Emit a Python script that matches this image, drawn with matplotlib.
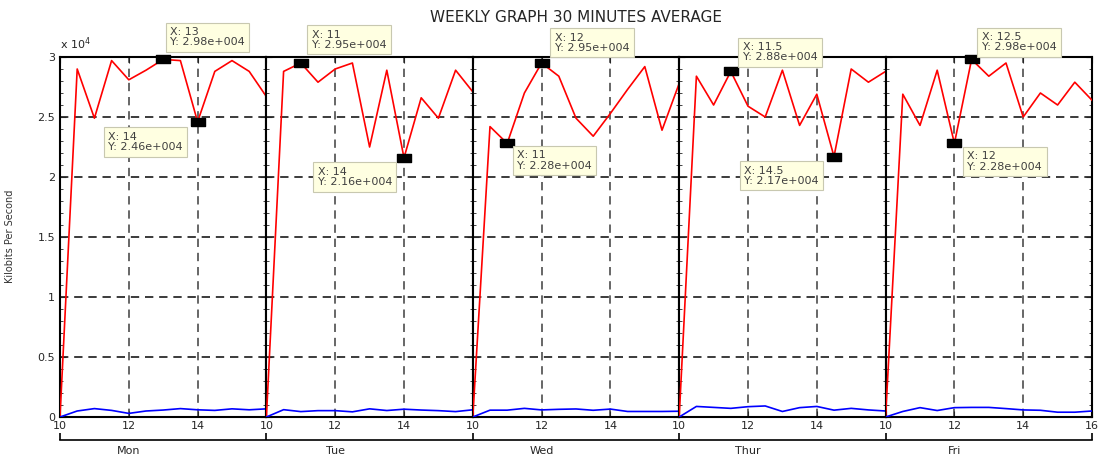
import matplotlib
matplotlib.use("Agg")
import matplotlib.pyplot as plt
from matplotlib.ticker import MultipleLocator

plt.rcParams['font.family'] = ['DejaVu Sans']

# half-hour averages, 10:00 .. 16:00
hours = [10, 10.5, 11, 11.5, 12, 12.5, 13, 13.5, 14, 14.5, 15, 15.5, 16]
days = ['Mon', 'Tue', 'Wed', 'Thur', 'Fri']

red_mon = [0, 29000, 24900, 29700, 28100, 28900, 29800, 29700, 24600, 28800, 29700, 28800, 26700]
red_tue = [0, 28800, 29500, 27900, 29000, 29500, 22500, 28900, 21600, 26600, 24900, 28900, 27100]
red_wed = [0, 24200, 22800, 27000, 29500, 28400, 24900, 23400, 25300, 27300, 29200, 23900, 27800]
red_thu = [0, 28400, 26000, 28800, 25900, 25000, 28900, 24300, 26900, 21700, 29000, 27900, 28800]
red_fri = [0, 26900, 24300, 28900, 22800, 29800, 28400, 29500, 25000, 27000, 26000, 27900, 26400]

blue_mon = [0, 500, 700, 550, 300, 500, 580, 700, 600, 550, 680, 600, 680]
blue_tue = [0, 610, 450, 530, 530, 430, 680, 540, 650, 580, 530, 450, 600]
blue_wed = [0, 570, 570, 720, 590, 640, 670, 560, 660, 460, 460, 460, 480]
blue_thu = [0, 880, 800, 720, 860, 920, 460, 780, 880, 570, 720, 590, 500]
blue_fri = [0, 460, 780, 540, 780, 800, 800, 700, 590, 560, 400, 400, 500]

reds = [red_mon, red_tue, red_wed, red_thu, red_fri]
blues = [blue_mon, blue_tue, blue_wed, blue_thu, blue_fri]

# data tips: (day, hour, dx, dy, ha, va)
tips = [
    (0, 13, 7, 12, 'left', 'bottom'),
    (0, 14, -15, -10, 'right', 'top'),
    (1, 11, 11, 13, 'left', 'bottom'),
    (1, 14, -12, -9, 'right', 'top'),
    (2, 11, 10, -7, 'left', 'top'),
    (2, 12, 13, 10, 'left', 'bottom'),
    (3, 11.5, 12, 9, 'left', 'bottom'),
    (3, 14.5, -15, -9, 'right', 'top'),
    (4, 12.5, 10, 7, 'left', 'bottom'),
    (4, 12, 13, -8, 'left', 'top'),
]


def matlab_fmt(v):
    m, e = f"{v:.2e}".split('e')
    return f"{m}e+{int(e):03d}"


W, H = 1101, 466
fig = plt.figure(figsize=(W / 100, H / 100), dpi=100)
left, right = 60 / W, 1092 / W
fig.subplots_adjust(left=left, right=right, bottom=1 - 417 / H, top=1 - 57 / H, wspace=0)
axes = fig.subplots(1, 5, sharey=True)

rect = [(-1, -0.55), (1, -0.55), (1, 0.55), (-1, 0.55), (-1, -0.55)]

for i, ax in enumerate(axes):
    ax.plot(hours, reds[i], color='#ff0000', lw=1.2, zorder=3)
    ax.plot(hours, blues[i], color='#0000ff', lw=1.2, zorder=3)
    ax.set_xlim(10, 16)
    ax.set_ylim(0, 30000)
    ax.yaxis.set_major_locator(MultipleLocator(5000))
    ax.yaxis.set_minor_locator(MultipleLocator(1000))
    ax.set_xticks([10, 12, 14, 16] if i == 4 else [10, 12, 14])
    ax.grid(True, which='major', axis='y', color='0.1', ls=(0, (5, 3.5)), lw=1.2)
    ax.grid(True, which='major', axis='x', color='0.3', ls=(0, (5, 3.5)), lw=1.2)
    ax.tick_params(which='both', direction='in', left=True, right=True, top=True,
                   labelsize=8, colors='0.15')
    ax.tick_params(which='major', length=4)
    ax.tick_params(which='minor', length=2.5)
    ax.tick_params(axis='x', pad=3)
    for s in ax.spines.values():
        s.set_linewidth(1.5)
        s.set_color('black')

axes[0].set_yticks(range(0, 30001, 5000))
axes[0].set_yticklabels(['0', '0.5', '1', '1.5', '2', '2.5', '3'])
axes[0].text(0, 1.015, r'x 10$^4$', transform=axes[0].transAxes, fontsize=8,
             color='0.15', ha='left', va='bottom')

for d, h, dx, dy, ha, va in tips:
    ax = axes[d]
    v = reds[d][hours.index(h)]
    ax.plot([h], [v], marker=rect, ms=9.5, color='black', ls='none', zorder=5, clip_on=False)
    txt = f"X: {h:g}\nY: {matlab_fmt(v)}"
    ax.annotate(txt, xy=(h, v), xytext=(dx, dy), textcoords='offset pixels',
                ha=ha, va=va, multialignment='left', fontsize=8, color='0.25',
                linespacing=1.05,
                bbox=dict(boxstyle='square,pad=0.4', fc='#ffffe1', ec='#c8c8b0', lw=0.8),
                annotation_clip=False, zorder=6)

# day axis below
axb = fig.add_axes([left, 1 - 440 / H, right - left, 0.001])
axb.set_xlim(0, 30)
axb.patch.set_visible(False)
for s in ['left', 'right', 'top']:
    axb.spines[s].set_visible(False)
axb.spines['bottom'].set_linewidth(1.2)
axb.set_yticks([])
axb.set_xticks(range(0, 31, 6))
axb.set_xticklabels([])
axb.set_xticks([2, 8, 14, 20, 26], minor=True)
axb.set_xticklabels(days, minor=True)
axb.tick_params(which='major', direction='in', length=5, width=1.2)
axb.tick_params(which='minor', length=0, pad=4, labelsize=8, colors='0.15')

fig.text(0.009, 1 - 236 / H, 'Kilobits Per Second', rotation=90, fontsize=7,
         ha='center', va='center', color='0.2')
fig.text((left + right) / 2, 1 - 17 / H, 'WEEKLY GRAPH 30 MINUTES AVERAGE',
         ha='center', va='center', fontsize=11, color='0.15')

fig.savefig('out.png', dpi=100)
